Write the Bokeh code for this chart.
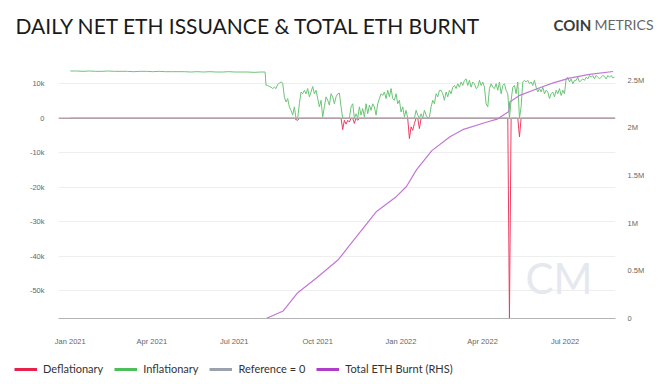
import numpy as np
import pandas as pd
from bokeh.plotting import figure
from bokeh.layouts import column
from bokeh.models import (Range1d, LinearAxis, FixedTicker, CustomJSTickFormatter,
                          DatetimeTickFormatter, Legend, LegendItem, Label)
from bokeh.embed import file_html
from bokeh.resources import INLINE

# ---------------- data ----------------
x_start = "2020-12-19"
x_end = "2022-08-25 16:00"
x_tick_dates = ["2021-01-01", "2021-04-01", "2021-07-01", "2021-10-01",
                "2022-01-01", "2022-04-01", "2022-07-01"]
left_ticks = [-50000, -40000, -30000, -20000, -10000, 0, 10000]
right_ticks = [0, 500000, 1000000, 1500000, 2000000, 2500000]

# daily net issuance (thousand ETH) before London, sampled weekly
pre_london_start = "2021-01-01"
pre_london_vals_k = [13.7, 13.7, 13.6, 13.7, 13.6, 13.6, 13.7, 13.6, 13.6, 13.6,
                     13.5, 13.6, 13.6, 13.5, 13.6, 13.5, 13.5, 13.5, 13.5, 13.4,
                     13.5, 13.4, 13.5, 13.4, 13.4, 13.5, 13.4, 13.4, 13.4, 13.3, 13.4]
pre_london_last_date = "2021-08-04"
pre_london_last_k = 13.4

# daily net issuance (thousand ETH) after London, sampled every 1.84 days
post_london_start = "2021-08-05"
post_london_step_days = 1.84
post_london_vals_k = [
    9.6, 9.5, 9.2, 9.0, 8.6, 9.0, 8.6, 9.8, 10.2, 10.5,
    10.2, 6.2, 4.7, 5.7, 3.3, 2.3, 0.9, 3.3, -0.4, -0.6,
    4.2, 7.6, 7.1, 8.1, 7.1, 8.6, 6.2, 7.6, 9.2, 7.1,
    8.1, 5.7, 3.3, 5.2, 0.4, 3.3, 6.2, 5.2, 3.8, 7.1,
    6.2, 4.2, 6.2, 7.1, 7.3, 3.3, -3.3, -0.6, -1.7, -0.6,
    -1.1, 3.3, 4.2, -1.5, 1.3, -0.6, 3.3, 0.9, 2.8, 0.4,
    4.2, 1.3, 3.8, 2.3, 4.2, 3.3, 0.9, 4.2, 5.7, 7.1,
    6.6, 7.6, 5.7, 8.1, 6.2, 8.6, 5.7, 5.2, 7.1, 4.2,
    5.2, 1.8, 3.3, 0.4, 2.3, -0.1, -5.9, -2.5, -3.5, -1.5,
    2.3, 0.9, -3.0, 1.3, -0.1, 2.3, 0.9, -0.1, 0.4, 3.3,
    5.2, 4.2, 7.1, 6.2, 8.1,
    8.1, 7.1, 5.2, 7.6, 6.2, 8.1, 7.1, 9.0, 9.5, 8.6,
    10.0, 9.0, 10.5, 9.5, 11.0, 11.4, 9.5, 11.0, 9.0, 10.5,
    10.0, 8.6, 9.0, 11.0, 9.5, 10.5, 9.0, 4.2, 3.3, 8.6,
    10.0, 9.0, 8.6, 10.0, 8.1, 10.5, 7.1, 9.5, 10.0, 8.1,
    7.1, -58.0, 5.2, 9.0, 9.5, 7.1, 10.5, -5.4, 3.3, 10.5,
    11.0, 10.5, 11.0, 10.0, 10.5, 9.5, 11.0, 9.0, 7.6, 8.6,
    7.6, 9.0, 7.1, 8.1, 7.6, 5.7, 7.1, 7.6, 6.2, 8.1,
    7.1, 8.6, 6.6, 8.1, 7.1, 11.4, 11.9, 10.5, 11.4, 10.0,
    11.0, 11.0, 11.9, 10.5, 11.0, 11.4, 11.0, 11.9, 11.4, 12.4,
    11.9, 12.4, 11.4, 12.4, 11.9, 11.4, 11.9, 12.4, 12.1, 11.4,
    12.4, 11.9, 12.4, 11.7, 11.9,
]

# cumulative ETH burnt (RHS)
burnt_dates = ["2020-12-19", "2021-08-05", "2021-08-24", "2021-09-09", "2021-09-30",
               "2021-10-24", "2021-11-06", "2021-12-05", "2021-12-27", "2022-01-07",
               "2022-01-18", "2022-02-04", "2022-02-24", "2022-03-10", "2022-04-06",
               "2022-04-17", "2022-04-30", "2022-05-01", "2022-05-12", "2022-06-03",
               "2022-06-18", "2022-07-06", "2022-07-28", "2022-08-23"]
burnt_vals = [0, 0, 79000, 271000, 428000,
              619000, 776000, 1123000, 1280000, 1384000,
              1558000, 1760000, 1906000, 1980000, 2060000,
              2090000, 2170000, 2270000, 2340000, 2420000,
              2470000, 2520000, 2560000, 2590000]

ref_dates = [x_start, x_end]
ref_vals = [0, 0]

# ---------------- build series ----------------
d1 = pd.DatetimeIndex(list(pd.date_range(pre_london_start, periods=len(pre_london_vals_k), freq="7D"))
                      + [pd.Timestamp(pre_london_last_date)])
d2 = pd.Timestamp(post_london_start) + pd.to_timedelta(
    np.arange(len(post_london_vals_k)) * post_london_step_days, unit="D")
iss_dates = d1.append(pd.DatetimeIndex(d2))
iss_vals = np.array(pre_london_vals_k + [pre_london_last_k] + post_london_vals_k) * 1000.0
infl = np.maximum(iss_vals, 0)
defl = np.minimum(iss_vals, 0)

RED = "#e8214b"
GREEN = "#4cbf5a"
GRAY = "#9aa3ad"
PURPLE = "#b03cc8"


def bare(fig):
    fig.outline_line_color = None
    fig.background_fill_color = "white"
    fig.border_fill_color = "white"
    fig.grid.visible = False
    return fig


def no_align(fig):
    if hasattr(fig, "frame_align"):
        fig.frame_align = False
    return fig


# ---------------- header (title + logo) ----------------
head = bare(figure(width=672, height=48, x_range=Range1d(0, 672), y_range=Range1d(0, 48),
                   x_axis_location=None, y_axis_location=None,
                   output_backend="svg", toolbar_location=None,
                   min_border_left=0, min_border_right=0, min_border_top=0, min_border_bottom=0))
no_align(head)
head.add_layout(Label(x=15, y=23.3, text="DAILY NET ETH ISSUANCE & TOTAL ETH BURNT",
                      text_font="Lato", text_font_size="21px", text_color="#1a1a1a",
                      text_baseline="middle", text_align="left"))
head.add_layout(Label(x=553, y=23.6, text="COIN", text_font="Lato", text_font_size="15px",
                      text_font_style="bold", text_color="#3d3d3d",
                      text_baseline="middle", text_align="left"))
head.add_layout(Label(x=594, y=23.6, text="METRICS", text_font="Lato", text_font_size="14px",
                      text_color="#666666", text_baseline="middle", text_align="left"))

# ---------------- main chart ----------------
p = figure(width=672, height=300, x_axis_type="datetime",
           x_range=Range1d(pd.Timestamp(x_start), pd.Timestamp(x_end)),
           y_range=Range1d(-58060, 20220),
           output_backend="svg", toolbar_location=None,
           min_border_left=58, min_border_right=57, min_border_top=0, min_border_bottom=29)
no_align(p)
p.extra_y_ranges = {"burnt": Range1d(0, 2831000)}
p.outline_line_color = None
p.background_fill_color = "white"
p.border_fill_color = "white"

p.xgrid.visible = False
p.ygrid.ticker = FixedTicker(ticks=left_ticks)
p.ygrid.grid_line_color = "#eeeeee"

ya = p.yaxis[0]
ya.ticker = FixedTicker(ticks=left_ticks)
ya.formatter = CustomJSTickFormatter(code="return tick == 0 ? '0' : (tick/1000) + 'k';")
ya.axis_line_color = None
ya.major_tick_line_color = None
ya.minor_tick_line_color = None
ya.major_label_standoff = 8
ya.major_label_text_font = "Liberation Sans"
ya.major_label_text_font_size = "7.5px"
ya.major_label_text_color = "#666666"

xa = p.xaxis[0]
xa.ticker = FixedTicker(ticks=[int(pd.Timestamp(d).value // 10**6) for d in x_tick_dates])
xa.formatter = DatetimeTickFormatter(days="%b %Y", months="%b %Y", years="%b %Y")
xa.axis_line_color = "#b4b4b4"
xa.axis_line_width = 1.2
xa.major_tick_line_color = None
xa.minor_tick_line_color = None
xa.major_label_standoff = 12
xa.major_label_text_font = "Liberation Sans"
xa.major_label_text_font_size = "7.5px"
xa.major_label_text_color = "#666666"

ra = LinearAxis(y_range_name="burnt", ticker=FixedTicker(ticks=right_ticks),
                formatter=CustomJSTickFormatter(code="return tick == 0 ? '0' : (tick/1e6) + 'M';"))
ra.axis_line_color = None
ra.major_tick_line_color = None
ra.minor_tick_line_color = None
ra.major_label_standoff = 6
ra.major_label_text_font = "Liberation Sans"
ra.major_label_text_font_size = "7.5px"
ra.major_label_text_color = "#666666"
p.add_layout(ra, "right")

# watermark
p.add_layout(Label(x=467, y=41, x_units="screen", y_units="screen", text="CM",
                   text_font="Lato", text_font_size="42px", text_color="#e6e8ef",
                   text_baseline="middle", text_align="left"))

p.line(iss_dates, infl, color="#6cc477", line_width=1)
p.line(iss_dates, defl, color="#ec3d62", line_width=1)
p.line(pd.to_datetime(ref_dates, format="ISO8601"), ref_vals, color="#b49ea7", line_width=1.6)
p.line(pd.to_datetime(burnt_dates, format="ISO8601"), burnt_vals, y_range_name="burnt",
       color="#c077d6", line_width=1.2)

# ---------------- footer (legend) ----------------
foot = bare(figure(width=672, height=36, x_range=Range1d(0, 1), y_range=Range1d(0, 1),
                   x_axis_location=None, y_axis_location=None,
                   output_backend="svg", toolbar_location=None,
                   min_border_left=0, min_border_right=0, min_border_top=0, min_border_bottom=0))
no_align(foot)
nan = [np.nan]
lr = foot.line(nan, nan, color=RED, line_width=3)
lg = foot.line(nan, nan, color=GREEN, line_width=3)
lgr = foot.line(nan, nan, color=GRAY, line_width=3)
lp = foot.line(nan, nan, color=PURPLE, line_width=3)
legend = Legend(items=[LegendItem(label="Deflationary", renderers=[lr]),
                       LegendItem(label="Inflationary", renderers=[lg]),
                       LegendItem(label="Reference = 0", renderers=[lgr]),
                       LegendItem(label="Total ETH Burnt (RHS)", renderers=[lp])],
                location=(14, 9), orientation="horizontal",
                glyph_width=23, glyph_height=12, label_standoff=6, spacing=11,
                padding=0, margin=0, border_line_color=None, background_fill_alpha=0,
                label_height=0, label_text_font="Lato", label_text_font_size="11px",
                label_text_color="#333333")
foot.add_layout(legend)

layout = column(head, p, foot, spacing=0)
open("out.html", "w").write(file_html(layout, INLINE))
